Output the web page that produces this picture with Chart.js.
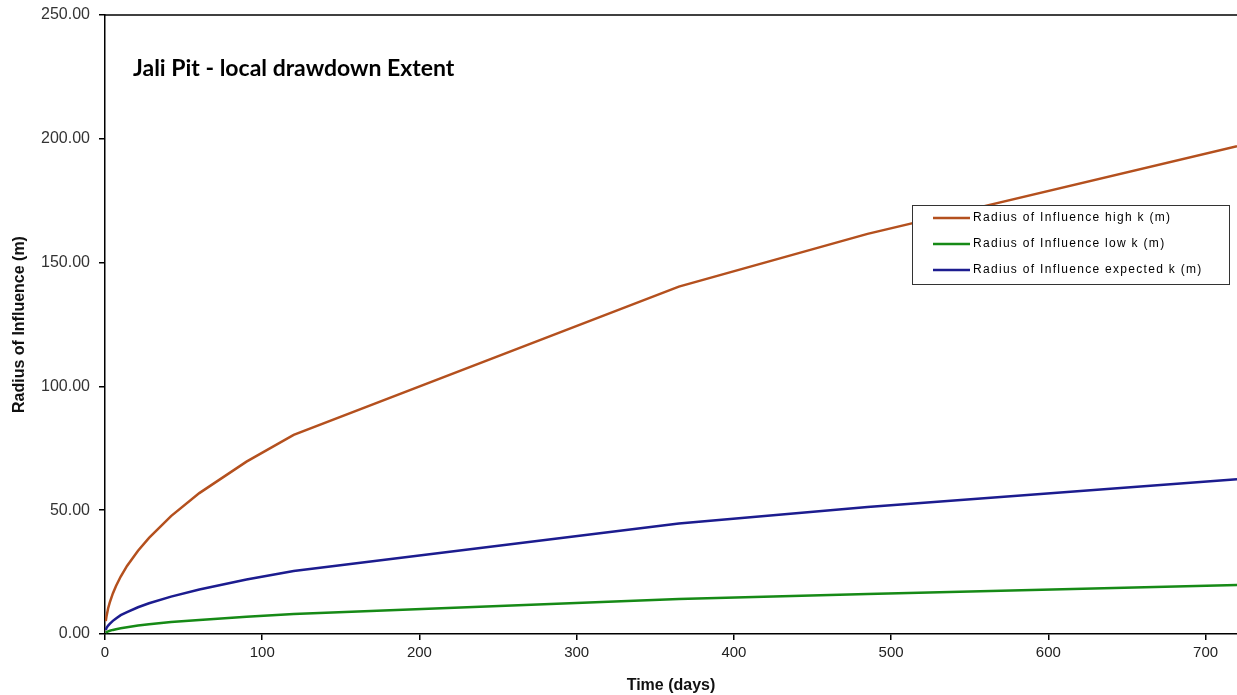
<!DOCTYPE html>
<html>
<head>
<meta charset="utf-8">
<script src="https://cdn.jsdelivr.net/npm/chart.js@4.4.1/dist/chart.umd.min.js"></script>
<style>
    body { margin: 0; background: #fff; }
</style>
</head>
<body>
<canvas id="roiChart" width="1237" height="695"></canvas>
<script>
const days = [0.5, 1, 2, 3, 5, 7, 10, 14, 21, 28, 42, 60, 90, 120, 365, 485, 720];
const highK = [5.2, 7.3, 10.4, 12.7, 16.4, 19.4, 23.2, 27.5, 33.6, 38.8, 47.6, 56.9, 69.6, 80.4, 140.3, 161.6, 197.0];
const lowK = [0.5, 0.75, 1.05, 1.3, 1.65, 1.95, 2.35, 2.75, 3.4, 3.9, 4.8, 5.7, 7.0, 8.1, 14.1, 16.2, 19.8];
const expectedK = [1.6, 2.5, 3.4, 4.1, 5.3, 6.3, 7.6, 8.8, 10.8, 12.4, 15.1, 18.0, 22.0, 25.4, 44.6, 51.3, 62.5];

const seriesNames = [
    "Radius of Influence high k (m)",
    "Radius of Influence low k (m)",
    "Radius of Influence expected k (m)"
];
const chartTitle = "Jali Pit - local drawdown Extent";

function toPoints(values) {
    return days.map((d, i) => ({ x: d, y: values[i] }));
}

/* title + legend + top border drawn inside the plot */
const extras = {
    id: "extras",
    afterDraw(chart) {
        const ctx = chart.ctx;
        const area = chart.chartArea;
        ctx.save();

        // top border
        ctx.strokeStyle = "#000";
        ctx.lineWidth = 1.5;
        ctx.beginPath();
        ctx.moveTo(area.left, area.top);
        ctx.lineTo(area.right, area.top);
        ctx.stroke();

        // title
        ctx.fillStyle = "#000";
        ctx.font = "bold 23px Lato";
        ctx.textBaseline = "middle";
        ctx.textAlign = "left";
        ctx.fillText(chartTitle, area.left + 28, area.top + 54);

        // legend
        const bx = area.right - 325, by = area.top + 190, bw = 317, bh = 79;
        ctx.fillStyle = "#fff";
        ctx.fillRect(bx, by, bw, bh);
        ctx.strokeStyle = "#333";
        ctx.lineWidth = 1;
        ctx.strokeRect(bx + 0.5, by + 0.5, bw, bh);
        ctx.font = "12px 'Liberation Sans'";
        if ("letterSpacing" in ctx) ctx.letterSpacing = "1.3px";
        chart.data.datasets.forEach((ds, i) => {
            const y = by + 13 + i * 26;
            ctx.strokeStyle = ds.borderColor;
            ctx.lineWidth = 2.5;
            ctx.beginPath();
            ctx.moveTo(bx + 21, y);
            ctx.lineTo(bx + 58, y);
            ctx.stroke();
            ctx.fillStyle = "#000";
            ctx.fillText(ds.label, bx + 61, y);
        });
        ctx.restore();
    }
};

new Chart(document.getElementById("roiChart"), {
    type: "line",
    data: {
        datasets: [
            { label: seriesNames[0], data: toPoints(highK), borderColor: "#B4501E", borderWidth: 2.5 },
            { label: seriesNames[1], data: toPoints(lowK), borderColor: "#168A16", borderWidth: 2.5 },
            { label: seriesNames[2], data: toPoints(expectedK), borderColor: "#1C1C8F", borderWidth: 2.5 }
        ]
    },
    options: {
        responsive: false,
        animation: false,
        elements: { point: { radius: 0 }, line: { tension: 0 } },
        layout: { padding: { top: 15, left: 6, right: 0, bottom: 0 } },
        plugins: { legend: { display: false }, tooltip: { enabled: false } },
        scales: {
            x: {
                type: "linear",
                min: 0,
                max: 720,
                ticks: {
                    stepSize: 100,
                    includeBounds: false,
                    padding: 4,
                    color: "#222",
                    font: { family: "Liberation Sans", size: 15 },
                    maxRotation: 0
                },
                grid: { drawOnChartArea: false, tickLength: 6, color: "#000", lineWidth: 1.5 },
                border: { color: "#000", width: 1.5 },
                title: {
                    display: true,
                    text: "Time (days)",
                    color: "#111",
                    font: { family: "Liberation Sans", size: 16, weight: "bold" },
                    padding: { top: 0, bottom: 0 }
                },
                afterFit(scale) {
                    scale.height = 61;
                    scale.paddingLeft = 0;
                    scale.paddingRight = 0;
                }
            },
            y: {
                min: 0,
                max: 250,
                ticks: {
                    stepSize: 50,
                    padding: 9,
                    color: "#333",
                    font: { family: "Liberation Sans", size: 16 },
                    callback: v => v.toFixed(2)
                },
                grid: { drawOnChartArea: false, tickLength: 6, color: "#000", lineWidth: 1.5 },
                border: { color: "#000", width: 1.5 },
                title: {
                    display: true,
                    text: "Radius of Influence (m)",
                    color: "#111",
                    font: { family: "Liberation Sans", size: 16, weight: "bold" },
                    padding: { top: 4, bottom: 0 }
                },
                afterFit(scale) {
                    scale.width = 99;
                    scale.paddingTop = 0;
                    scale.paddingBottom = 0;
                }
            }
        }
    },
    plugins: [extras]
});
</script>
</body>
</html>
